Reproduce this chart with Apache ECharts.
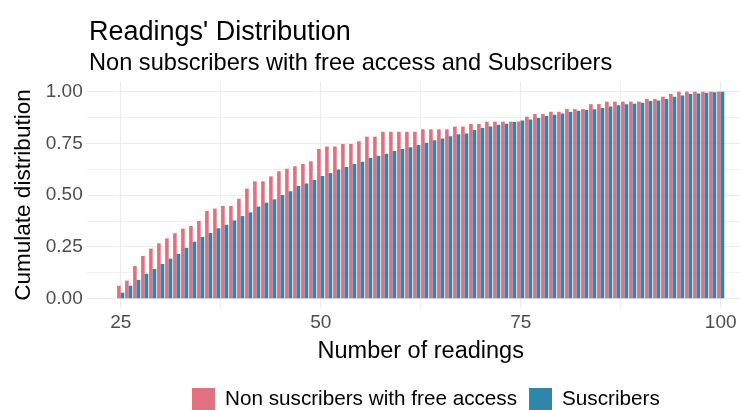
<!DOCTYPE html>
<html>
<head>
<meta charset="utf-8">
<script src="https://cdn.jsdelivr.net/npm/echarts@6/dist/echarts.min.js"></script>
<style>
  html, body { margin: 0; padding: 0; background: #fff; }
  #main { width: 740px; height: 410px; }
</style>
</head>
<body>
<div id="main"></div>
<script>
// number of readings (x)
var readings = [25, 26, 27, 28, 29, 30, 31, 32, 33, 34, 35, 36, 37, 38, 39, 40,
  41, 42, 43, 44, 45, 46, 47, 48, 49, 50, 51, 52, 53, 54, 55, 56, 57, 58, 59, 60,
  61, 62, 63, 64, 65, 66, 67, 68, 69, 70, 71, 72, 73, 74, 75, 76, 77, 78, 79, 80,
  81, 82, 83, 84, 85, 86, 87, 88, 89, 90, 91, 92, 93, 94, 95, 96, 97, 98, 99, 100]

// cumulative share, non subscribers with free access
var nonSubscribers = [0.06, 0.085, 0.156, 0.205, 0.24, 0.266, 0.29, 0.315, 0.337, 0.35,
  0.374, 0.423, 0.434, 0.447, 0.447, 0.482, 0.531, 0.566, 0.566, 0.59,
  0.615, 0.627, 0.639, 0.65, 0.663, 0.723, 0.735, 0.735, 0.747, 0.747,
  0.76, 0.782, 0.782, 0.806, 0.806, 0.806, 0.806, 0.806, 0.818, 0.818,
  0.818, 0.818, 0.831, 0.831, 0.844, 0.844, 0.855, 0.855, 0.855, 0.855,
  0.856, 0.879, 0.892, 0.892, 0.903, 0.903, 0.916, 0.916, 0.916, 0.94,
  0.94, 0.952, 0.952, 0.952, 0.952, 0.952, 0.965, 0.965, 0.976, 0.989,
  1, 1, 1, 1, 1, 1]

// cumulative share, subscribers
var subscribers = [0.027, 0.061, 0.089, 0.119, 0.142, 0.166, 0.192, 0.215, 0.244, 0.274,
  0.297, 0.316, 0.339, 0.356, 0.377, 0.398, 0.416, 0.444, 0.463, 0.479,
  0.5, 0.518, 0.544, 0.556, 0.573, 0.592, 0.606, 0.624, 0.635, 0.65,
  0.661, 0.679, 0.69, 0.7, 0.713, 0.723, 0.731, 0.742, 0.753, 0.765,
  0.774, 0.784, 0.794, 0.798, 0.815, 0.824, 0.832, 0.84, 0.845, 0.853,
  0.861, 0.866, 0.873, 0.882, 0.889, 0.894, 0.902, 0.908, 0.911, 0.915,
  0.921, 0.929, 0.934, 0.939, 0.942, 0.947, 0.955, 0.958, 0.965, 0.976,
  0.982, 0.989, 0.992, 0.995, 0.998, 1]

var xBreaks = [25, 50, 75, 100]
var xMinor = [37.5, 62.5, 87.5]
var yBreaks = [0, 0.25, 0.5, 0.75, 1]
var yMinor = [0.125, 0.375, 0.625, 0.875]

var FONT = "'Liberation Sans', Arial, sans-serif"
var GRID = '#EBEBEB'

function pairs(ys) {
  return readings.map(function (x, i) { return [x, ys[i]] })
}

var chart = echarts.init(document.getElementById('main'), null, { renderer: 'canvas' })

var option = {
  animation: false,
  textStyle: { fontFamily: FONT },
  title: {
    text: "Readings' Distribution",
    subtext: 'Non subscribers with free access and Subscribers',
    left: 84,
    top: 14,
    itemGap: 5,
    textStyle: { fontFamily: FONT, fontSize: 27, fontWeight: 'normal', color: '#000' },
    subtextStyle: { fontFamily: FONT, fontSize: 23.6, color: '#000' }
  },
  legend: {
    data: ['Non suscribers with free access', 'Suscribers'],
    left: 192,
    top: 388,
    padding: 0,
    itemWidth: 23,
    itemHeight: 23,
    itemGap: 12,
    icon: 'rect',
    textStyle: { fontFamily: FONT, fontSize: 20.7, color: '#000', padding: [0, 0, 0, 5] }
  },
  grid: { left: 86.7, top: 81.4, width: 668, height: 227.2, outerBoundsMode: 'none' },
  xAxis: [
    {
      type: 'value',
      min: 20.75,
      max: 104.25,
      name: 'Number of readings',
      nameLocation: 'middle',
      nameGap: 31,
      nameTextStyle: { fontFamily: FONT, fontSize: 23.5, color: '#000' },
      axisLine: { show: false },
      axisTick: { show: false, customValues: xBreaks },
      axisLabel: { customValues: xBreaks, fontSize: 19, color: '#4D4D4D', margin: 5 },
      splitLine: { show: true, lineStyle: { color: GRID, width: 1.2 } }
    },
    {
      type: 'value',
      min: 20.75,
      max: 104.25,
      position: 'bottom',
      axisLine: { show: false },
      axisTick: { show: false, customValues: xMinor },
      axisLabel: { show: false, customValues: xMinor },
      splitLine: { show: true, lineStyle: { color: GRID, width: 0.7 } }
    }
  ],
  yAxis: [
    {
      type: 'value',
      min: -0.05,
      max: 1.05,
      name: 'Cumulate distribution',
      nameLocation: 'middle',
      nameGap: 50,
      nameTextStyle: { fontFamily: FONT, fontSize: 22.5, color: '#000' },
      axisLine: { show: false },
      axisTick: { show: false, customValues: yBreaks },
      axisLabel: {
        customValues: yBreaks,
        fontSize: 19,
        color: '#4D4D4D',
        margin: 4,
        formatter: function (v) { return v.toFixed(2) }
      },
      splitLine: { show: true, lineStyle: { color: GRID, width: 1.2 } }
    },
    {
      type: 'value',
      min: -0.05,
      max: 1.05,
      position: 'left',
      axisLine: { show: false },
      axisTick: { show: false, customValues: yMinor },
      axisLabel: { show: false, customValues: yMinor },
      splitLine: { show: true, lineStyle: { color: GRID, width: 0.7 } }
    }
  ],
  series: [
    {
      name: 'Non suscribers with free access',
      type: 'bar',
      xAxisIndex: 0,
      yAxisIndex: 0,
      data: pairs(nonSubscribers),
      barWidth: '45%',
      barGap: '0%',
      itemStyle: { color: '#E3707E' }
    },
    {
      name: 'Suscribers',
      type: 'bar',
      xAxisIndex: 0,
      yAxisIndex: 0,
      data: pairs(subscribers),
      barWidth: '45%',
      barGap: '0%',
      itemStyle: { color: '#2E86AB' }
    }
  ]
}

chart.setOption(option)
</script>
</body>
</html>
